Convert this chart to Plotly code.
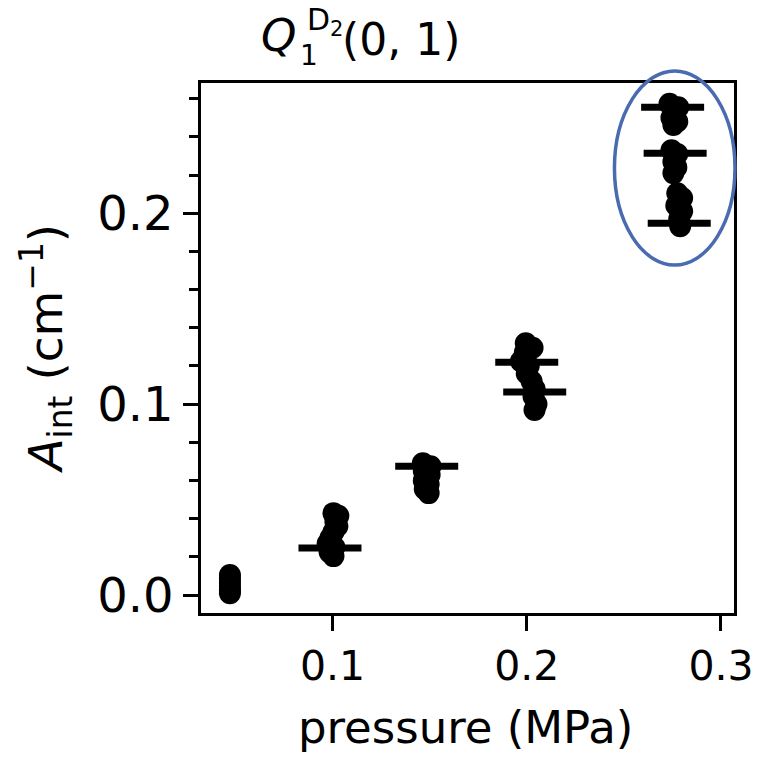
import plotly.graph_objects as go

# ---- data ----
pressure_pts = [
    0.0472, 0.0472, 0.0472, 0.0472, 0.0472, 0.0472,
    0.1005, 0.1030, 0.1015, 0.1025, 0.1005, 0.0990, 0.0975, 0.1010, 0.0985, 0.1005,
    0.1465, 0.1505, 0.1470, 0.1500, 0.1470, 0.1495, 0.1475, 0.1495,
    0.1995, 0.2030, 0.1990, 0.1970, 0.2010, 0.2000, 0.2025, 0.2040, 0.2035, 0.2050, 0.2040,
    0.2735, 0.2780, 0.2745, 0.2775, 0.2755,
    0.2745, 0.2775, 0.2755, 0.2770, 0.2755,
    0.2775, 0.2800, 0.2770, 0.2800, 0.2785, 0.2790,
]
aint_pts = [
    0.0105, 0.0085, 0.0065, 0.0045, 0.0025, 0.0010,
    0.0429, 0.0415, 0.0385, 0.0360, 0.0330, 0.0300, 0.0270, 0.0250, 0.0225, 0.0204,
    0.0690, 0.0675, 0.0650, 0.0630, 0.0600, 0.0580, 0.0555, 0.0534,
    0.1319, 0.1295, 0.1270, 0.1225, 0.1200, 0.1160, 0.1120, 0.1080, 0.1040, 0.1000, 0.0969,
    0.2573, 0.2555, 0.2500, 0.2480, 0.2462,
    0.2330, 0.2310, 0.2270, 0.2240, 0.2210,
    0.2105, 0.2080, 0.2040, 0.2010, 0.1970, 0.1932,
]
mean_pressure = [0.0987, 0.1485, 0.2000, 0.2041, 0.2751, 0.2764, 0.2785]
mean_aint = [0.0246, 0.0675, 0.1220, 0.1063, 0.2555, 0.2314, 0.1948]

x_tick_vals = [0.1, 0.2, 0.3]
x_tick_text = ["0.1", "0.2", "0.3"]
y_tick_vals = [0.0, 0.1, 0.2]
y_tick_text = ["0.0", "0.1", "0.2"]

x_range = [0.0323, 0.3067]
y_range = [-0.0094, 0.2682]

FONT = "DejaVu Sans, sans-serif"

fig = go.Figure()
fig.add_trace(go.Scatter(
    x=pressure_pts, y=aint_pts, mode="markers",
    marker=dict(symbol="circle", size=22, color="black", line=dict(width=0)),
    showlegend=False, hoverinfo="skip",
))
fig.add_trace(go.Scatter(
    x=mean_pressure, y=mean_aint, mode="markers",
    marker=dict(symbol="line-ew", size=45, color="black",
                line=dict(width=7, color="black")),
    showlegend=False, hoverinfo="skip",
))

axis_common = dict(
    showline=True, linecolor="black", linewidth=2.5, mirror=True,
    showgrid=False, zeroline=False,
    ticks="outside", ticklen=15, tickwidth=2.5, tickcolor="black",
)
fig.update_xaxes(
    range=x_range, tickvals=x_tick_vals, ticktext=x_tick_text,
    tickfont=dict(family=FONT, size=41, color="black"),
    **axis_common,
)
fig.update_yaxes(
    range=y_range, tickvals=y_tick_vals, ticktext=y_tick_text,
    tickfont=dict(family=FONT, size=48, color="black"),
    minor=dict(dtick=0.02, tick0=0, ticks="outside", ticklen=9, tickwidth=2.5, tickcolor="black"),
    **axis_common,
)

def px(xp):
    return (xp - 201) / 535.0

def py(yp):
    return (613 - yp) / 530.0

# axis titles
fig.add_annotation(text="pressure (MPa)", xref="paper", yref="paper",
                   x=px(466), y=py(727), xanchor="center", yanchor="middle",
                   showarrow=False, font=dict(family=FONT, size=45, color="black"))
fig.add_annotation(text="<i>A</i><sub>int</sub> (cm<sup>−1</sup>)", xref="paper", yref="paper",
                   x=px(45), y=py(349), xanchor="center", yanchor="middle", textangle=-90,
                   showarrow=False, font=dict(family=FONT, size=47, color="black"))

# ellipse highlighting the last group
fig.add_shape(type="circle", xref="paper", yref="paper",
              x0=px(616), x1=px(737), y0=py(265), y1=py(71),
              line=dict(color="#4A6BAF", width=3.5), layer="above")

# title Q_1^{D_2}(0, 1)
title_parts = [
    ("<i>Q</i>", 260, 36, 45),
    ("1", 299, 56, 28),
    ("D<sub>2</sub>", 306, 22, 30),
    ("(0, 1)", 342, 39, 44),
]
for txt, xpix, ypix, size in title_parts:
    fig.add_annotation(text=txt, xref="paper", yref="paper", x=px(xpix), y=py(ypix),
                       xanchor="left", yanchor="middle", showarrow=False, borderpad=0,
                       font=dict(family=FONT, size=size, color="black"))

fig.update_layout(
    width=766, height=757,
    margin=dict(l=201, r=30, t=83, b=144),
    paper_bgcolor="white", plot_bgcolor="white",
)
fig.write_html("out.html")
